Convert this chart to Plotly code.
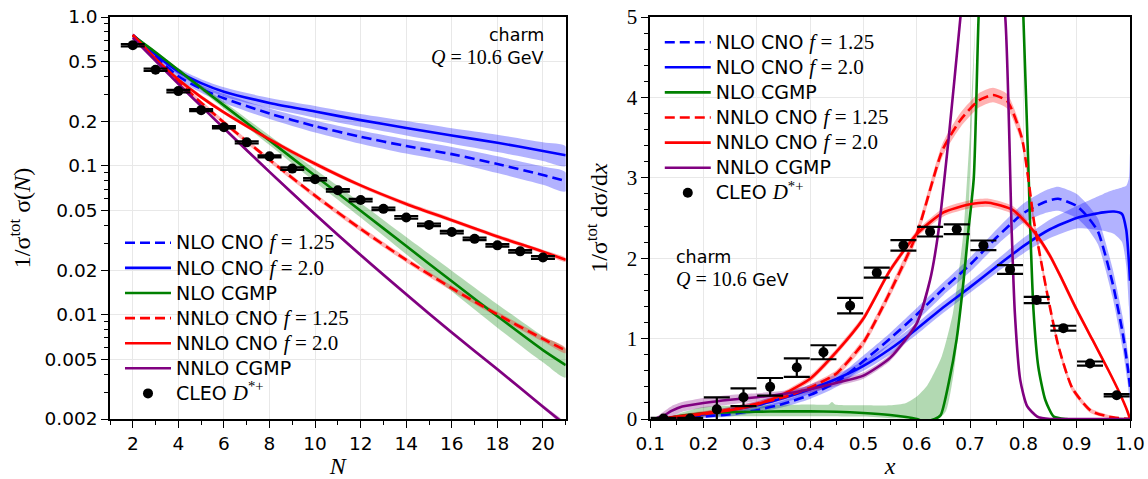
import plotly.graph_objects as go

# ---------------- Left panel: Mellin moments ----------------
N_th = [2, 3, 4, 5, 6, 8, 10, 12, 14, 16, 18, 20, 21]

nlo_cno125 = [0.75, 0.54, 0.40, 0.33, 0.285, 0.225, 0.185, 0.157, 0.136, 0.12, 0.103, 0.087, 0.079]
nlo_cno125_lo = [0.735, 0.518, 0.38, 0.31, 0.265, 0.207, 0.168, 0.141, 0.121, 0.106, 0.0896, 0.0748, 0.0675]
nlo_cno125_hi = [0.765, 0.562, 0.42, 0.35, 0.305, 0.243, 0.202, 0.173, 0.151, 0.134, 0.116, 0.0992, 0.0905]

nlo_cno20 = [0.76, 0.56, 0.43, 0.36, 0.315, 0.265, 0.232, 0.203, 0.18, 0.16, 0.143, 0.126, 0.118]
nlo_cno20_lo = [0.745, 0.538, 0.409, 0.338, 0.293, 0.244, 0.211, 0.183, 0.16, 0.141, 0.124, 0.108, 0.1]
nlo_cno20_hi = [0.775, 0.582, 0.452, 0.382, 0.337, 0.286, 0.253, 0.223, 0.2, 0.179, 0.162, 0.144, 0.135]

nlo_cgmp = [0.75, 0.58, 0.44, 0.335, 0.255, 0.148, 0.086, 0.05, 0.029, 0.0168, 0.0098, 0.0058, 0.0046]
nlo_cgmp_lo = [0.742, 0.568, 0.427, 0.322, 0.242, 0.138, 0.078, 0.045, 0.0255, 0.0144, 0.0082, 0.0048, 0.0038]
nlo_cgmp_hi = [0.758, 0.592, 0.453, 0.348, 0.27, 0.16, 0.095, 0.0565, 0.0334, 0.0198, 0.0118, 0.0072, 0.0059]

nnlo_cno125 = [0.75, 0.519, 0.367, 0.266, 0.196, 0.110, 0.0632, 0.0378, 0.0234, 0.0151, 0.01007, 0.0069, 0.00577]
nnlo_cno125_lo = [0.73, 0.503, 0.355, 0.257, 0.189, 0.106, 0.0608, 0.0363, 0.0225, 0.0145, 0.00966, 0.00662, 0.00553]
nnlo_cno125_hi = [0.77, 0.535, 0.379, 0.275, 0.203, 0.114, 0.0656, 0.0393, 0.0243, 0.0157, 0.01048, 0.00718, 0.006]

nnlo_cno20 = [0.76, 0.525, 0.38, 0.29, 0.229, 0.151, 0.1035, 0.074, 0.0556, 0.0432, 0.0336, 0.0266, 0.0234]
nnlo_cno20_lo = [0.745, 0.51, 0.368, 0.281, 0.222, 0.146, 0.1, 0.0717, 0.0538, 0.0418, 0.0325, 0.0258, 0.0227]
nnlo_cno20_hi = [0.775, 0.54, 0.392, 0.299, 0.236, 0.156, 0.107, 0.0763, 0.0574, 0.0446, 0.0347, 0.0274, 0.0241]

nnlo_cgmp = [0.724, 0.507, 0.356, 0.252, 0.179, 0.0912, 0.0474, 0.0252, 0.01374, 0.00762, 0.00431, 0.00242, 0.00182]
nnlo_cgmp_lo = [0.705, 0.493, 0.346, 0.245, 0.174, 0.0887, 0.0461, 0.0245, 0.01336, 0.00741, 0.00419, 0.00235, 0.00177]
nnlo_cgmp_hi = [0.743, 0.521, 0.366, 0.259, 0.184, 0.0937, 0.0487, 0.0259, 0.01412, 0.00783, 0.00443, 0.00249, 0.00187]

N_data = [2, 3, 4, 5, 6, 7, 8, 9, 10, 11, 12, 13, 14, 15, 16, 17, 18, 19, 20]
cleo_N = [0.647, 0.442, 0.318, 0.237, 0.182, 0.144, 0.116, 0.096, 0.0815, 0.0686, 0.059,
          0.0515, 0.0451, 0.0402, 0.036, 0.0324, 0.0293, 0.0267, 0.0243]
cleo_N_err = [0.012, 0.008, 0.006, 0.004, 0.003, 0.0025, 0.002, 0.0018, 0.0015, 0.0013, 0.0011,
              0.001, 0.0009, 0.0008, 0.0007, 0.0006, 0.0006, 0.0005, 0.0005]

# ---------------- Right panel: x spectrum ----------------
x_bd = [0.12, 0.15, 0.2, 0.25, 0.3, 0.35, 0.4, 0.45, 0.5, 0.55, 0.6, 0.65, 0.7, 0.75, 0.8, 0.84,
        0.865, 0.9, 0.92, 0.94, 0.967, 0.986, 0.996, 1.0]
nlo_cno125_x = [0.0, 0.01, 0.03, 0.06, 0.11, 0.19, 0.3, 0.46, 0.72, 1.0, 1.3, 1.62, 1.92, 2.26, 2.56,
                2.7, 2.74, 2.65, 2.52, 2.33, 1.7, 1.08, 0.63, 0.4]
nlo_cno125_x_lo = [0.0, 0.0, 0.01, 0.03, 0.08, 0.15, 0.25, 0.4, 0.65, 0.93, 1.22, 1.54, 1.83, 2.16,
                   2.44, 2.56, 2.59, 2.5, 2.37, 2.17, 1.52, 0.88, 0.43, 0.2]
nlo_cno125_x_hi = [0.0, 0.02, 0.05, 0.09, 0.14, 0.23, 0.35, 0.52, 0.79, 1.07, 1.38, 1.7, 2.01, 2.36,
                   2.68, 2.84, 2.89, 2.8, 2.67, 2.49, 1.88, 1.28, 0.83, 0.6]

x_bs = [0.12, 0.15, 0.2, 0.25, 0.3, 0.35, 0.4, 0.45, 0.5, 0.55, 0.6, 0.65, 0.7, 0.75, 0.8, 0.85,
        0.9, 0.95, 0.97, 0.985, 0.993, 0.998, 1.0]
nlo_cno20_x = [0.0, 0.02, 0.06, 0.11, 0.17, 0.26, 0.37, 0.5, 0.66, 0.87, 1.12, 1.39, 1.64, 1.9,
               2.15, 2.36, 2.5, 2.57, 2.58, 2.55, 2.35, 1.95, 1.72]
nlo_cno20_x_lo = [0.0, 0.0, 0.03, 0.07, 0.12, 0.2, 0.31, 0.44, 0.6, 0.8, 1.05, 1.32, 1.57, 1.82,
                  2.06, 2.25, 2.37, 2.34, 2.3, 2.2, 1.9, 1.4, 1.2]
nlo_cno20_x_hi = [0.0, 0.05, 0.09, 0.15, 0.22, 0.32, 0.43, 0.56, 0.72, 0.94, 1.19, 1.46, 1.71, 1.98,
                  2.25, 2.48, 2.65, 2.8, 2.85, 2.88, 2.9, 3.0, 3.3]

x_g = [0.13, 0.15, 0.2, 0.25, 0.3, 0.35, 0.4, 0.45, 0.5, 0.55, 0.58, 0.6, 0.615, 0.634, 0.645, 0.66,
       0.675, 0.688, 0.697, 0.707, 0.716, 0.73, 0.76, 0.79, 0.8, 0.81, 0.813, 0.819, 0.828, 0.841,
       0.857, 0.88, 1.0]
nlo_cgmp_x = [0.0, 0.03, 0.07, 0.085, 0.09, 0.095, 0.095, 0.09, 0.075, 0.05, 0.025, 0.0, -0.03, 0.0,
              0.05, 0.45, 1.0, 1.73, 2.35, 3.0, 5.0, 7.0, 8.0, 7.0, 5.0, 3.0, 2.35, 1.35, 0.65, 0.24,
              0.03, 0.0, 0.0]
x_gb_hi = [0.13, 0.15, 0.2, 0.3, 0.4, 0.435, 0.441, 0.447, 0.5, 0.55, 0.58, 0.6, 0.62, 0.647, 0.668,
           0.681, 0.688, 0.7, 0.71]
nlo_cgmp_x_hi = [0.0, 0.06, 0.15, 0.17, 0.18, 0.18, 0.21, 0.18, 0.17, 0.17, 0.2, 0.28, 0.42, 0.78,
                 1.32, 1.94, 2.35, 3.6, 5.0]
x_gb_lo = [0.13, 0.2, 0.3, 0.4, 0.5, 0.55, 0.6, 0.64, 0.655, 0.67, 0.683, 0.695, 0.71]
nlo_cgmp_x_lo = [0.0, 0.03, 0.035, 0.035, 0.03, 0.01, 0.0, 0.0, 0.1, 0.6, 1.4, 2.2, 5.0]

x_rd = [0.12, 0.15, 0.2, 0.25, 0.3, 0.35, 0.4, 0.45, 0.5, 0.55, 0.6, 0.648, 0.682, 0.716, 0.743,
        0.77, 0.797, 0.81, 0.82, 0.845, 0.866, 0.892, 0.927, 0.96, 1.0]
nnlo_cno125_x = [0.0, 0.02, 0.06, 0.12, 0.19, 0.27, 0.39, 0.57, 0.95, 1.58, 2.3, 3.34, 3.72, 3.96,
                 4.03, 3.95, 3.5, 2.95, 2.45, 1.55, 0.9, 0.38, 0.1, 0.03, 0.0]
nnlo_cno125_x_lo = [0.0, 0.0, 0.03, 0.09, 0.16, 0.24, 0.35, 0.53, 0.9, 1.52, 2.23, 3.26, 3.63, 3.87,
                    3.94, 3.86, 3.42, 2.88, 2.38, 1.49, 0.85, 0.34, 0.07, 0.01, 0.0]
nnlo_cno125_x_hi = [0.0, 0.04, 0.09, 0.15, 0.22, 0.3, 0.43, 0.61, 1.0, 1.64, 2.37, 3.42, 3.81, 4.05,
                    4.12, 4.04, 3.58, 3.02, 2.52, 1.61, 0.95, 0.42, 0.13, 0.05, 0.0]

x_rs = [0.12, 0.15, 0.2, 0.25, 0.3, 0.35, 0.4, 0.45, 0.5, 0.55, 0.6, 0.65, 0.7, 0.735, 0.78, 0.82,
        0.85, 0.87, 0.9, 0.93, 0.96, 0.98, 0.995, 1.0]
nnlo_cno20_x = [0.0, 0.03, 0.07, 0.11, 0.18, 0.31, 0.5, 0.84, 1.25, 1.85, 2.3, 2.57, 2.67, 2.69,
                2.6, 2.33, 2.03, 1.77, 1.36, 0.98, 0.6, 0.33, 0.1, 0.0]
nnlo_cno20_x_lo = [0.0, 0.0, 0.04, 0.08, 0.15, 0.28, 0.46, 0.8, 1.21, 1.81, 2.26, 2.52, 2.62, 2.64,
                   2.55, 2.29, 1.99, 1.73, 1.32, 0.95, 0.57, 0.31, 0.08, 0.0]
nnlo_cno20_x_hi = [0.0, 0.05, 0.1, 0.14, 0.21, 0.34, 0.54, 0.88, 1.29, 1.89, 2.34, 2.62, 2.72, 2.74,
                   2.65, 2.37, 2.07, 1.81, 1.4, 1.01, 0.63, 0.35, 0.12, 0.0]

x_p = [0.108, 0.125, 0.14, 0.16, 0.2, 0.25, 0.3, 0.35, 0.4, 0.45, 0.5, 0.55, 0.6, 0.625, 0.64,
       0.66, 0.682, 0.7, 0.72, 0.74, 0.766, 0.778, 0.784, 0.794, 0.807, 0.826, 0.85, 0.9, 1.0]
nnlo_cgmp_x = [0.0, 0.04, 0.1, 0.155, 0.2, 0.24, 0.27, 0.31, 0.37, 0.45, 0.54, 0.76, 1.19, 1.73,
               2.3, 3.5, 5.0, 6.2, 7.0, 6.5, 5.0, 2.35, 1.32, 0.49, 0.16, 0.03, 0.0, 0.0, 0.0]
nnlo_cgmp_x_lo = [0.0, 0.0, 0.03, 0.09, 0.14, 0.18, 0.22, 0.27, 0.33, 0.41, 0.5, 0.72, 1.15, 1.69,
                  2.26, 3.46, 4.96, 6.15, 6.95, 6.45, 4.95, 2.3, 1.28, 0.45, 0.13, 0.01, 0.0, 0.0, 0.0]
nnlo_cgmp_x_hi = [0.0, 0.09, 0.16, 0.21, 0.26, 0.3, 0.32, 0.35, 0.41, 0.49, 0.58, 0.8, 1.23, 1.77,
                  2.34, 3.54, 5.04, 6.25, 7.05, 6.55, 5.05, 2.4, 1.36, 0.53, 0.19, 0.05, 0.0, 0.0, 0.0]

x_data = [0.125, 0.175, 0.225, 0.275, 0.325, 0.375, 0.425, 0.475, 0.525, 0.575, 0.625, 0.675,
          0.725, 0.775, 0.825, 0.875, 0.925, 0.975]
cleo_x = [0.005, 0.005, 0.12, 0.27, 0.40, 0.64, 0.83, 1.41, 1.82, 2.16, 2.33, 2.36, 2.16, 1.86,
          1.48, 1.13, 0.69, 0.295]
cleo_x_err = [0.01, 0.01, 0.15, 0.11, 0.11, 0.115, 0.087, 0.097, 0.062, 0.065, 0.06, 0.06, 0.06,
              0.055, 0.04, 0.03, 0.025, 0.015]

# ---------------- styles ----------------
BLUE, GREEN, RED, PURPLE = "#0000ff", "#008000", "#ff0000", "#800080"
BAND = {BLUE: "rgba(0,0,255,0.3)", GREEN: "rgba(0,128,0,0.3)", RED: "rgba(255,0,0,0.3)",
        PURPLE: "rgba(128,0,128,0.3)"}
SERIF = "Liberation Serif"
DASH = "10px,5px"
LW = 2.6


def m(s, size=21):
    return '<span style="font-family:%s;font-size:%dpx">%s</span>' % (SERIF, size, s)


def t(s, size=19):
    return '<span style="font-size:%dpx">%s</span>' % (size, s)


labels = [
    (t("NLO CNO ") + m("<i>f</i> = 1.25"), BLUE, DASH),
    (t("NLO CNO ") + m("<i>f</i> = 2.0"), BLUE, "solid"),
    (t("NLO CGMP"), GREEN, "solid"),
    (t("NNLO CNO ") + m("<i>f</i> = 1.25"), RED, DASH),
    (t("NNLO CNO ") + m("<i>f</i> = 2.0"), RED, "solid"),
    (t("NNLO CGMP"), PURPLE, "solid"),
]
cleo_label = t("CLEO ") + m("<i>D</i><sup>*+</sup>")

left_curves = [
    (N_th, nlo_cno125, N_th, nlo_cno125_lo, N_th, nlo_cno125_hi),
    (N_th, nlo_cno20, N_th, nlo_cno20_lo, N_th, nlo_cno20_hi),
    (N_th, nlo_cgmp, N_th, nlo_cgmp_lo, N_th, nlo_cgmp_hi),
    (N_th, nnlo_cno125, N_th, nnlo_cno125_lo, N_th, nnlo_cno125_hi),
    (N_th, nnlo_cno20, N_th, nnlo_cno20_lo, N_th, nnlo_cno20_hi),
    (N_th, nnlo_cgmp, N_th, nnlo_cgmp_lo, N_th, nnlo_cgmp_hi),
]
right_curves = [
    (x_bd, nlo_cno125_x, x_bd, nlo_cno125_x_lo, x_bd, nlo_cno125_x_hi),
    (x_bs, nlo_cno20_x, x_bs, nlo_cno20_x_lo, x_bs, nlo_cno20_x_hi),
    (x_g, nlo_cgmp_x, x_gb_lo, nlo_cgmp_x_lo, x_gb_hi, nlo_cgmp_x_hi),
    (x_rd, nnlo_cno125_x, x_rd, nnlo_cno125_x_lo, x_rd, nnlo_cno125_x_hi),
    (x_rs, nnlo_cno20_x, x_rs, nnlo_cno20_x_lo, x_rs, nnlo_cno20_x_hi),
    (x_p, nnlo_cgmp_x, x_p, nnlo_cgmp_x_lo, x_p, nnlo_cgmp_x_hi),
]

fig = go.Figure()

for curves, xa, ya, leg, smooth in [
    (left_curves, "x", "y", "legend", 0.8),
    (right_curves, "x2", "y2", "legend2", 0.6),
]:
    for (lab, col, dash), (xc, yc, xl, yl, xh, yh) in zip(labels, curves):
        fig.add_trace(go.Scatter(
            x=list(xh) + list(xl)[::-1], y=list(yh) + list(yl)[::-1],
            fill="toself", fillcolor=BAND[col], line=dict(width=0, shape="spline", smoothing=smooth),
            mode="lines", hoverinfo="skip", showlegend=False, xaxis=xa, yaxis=ya))
    for (lab, col, dash), (xc, yc, xl, yl, xh, yh) in zip(labels, curves):
        fig.add_trace(go.Scatter(
            x=xc, y=yc, mode="lines", name=lab,
            line=dict(color=col, width=LW, dash=dash, shape="spline", smoothing=smooth),
            xaxis=xa, yaxis=ya, legend=leg))

fig.add_trace(go.Scatter(
    x=N_data, y=cleo_N, mode="markers", name=cleo_label,
    marker=dict(color="black", size=10),
    error_y=dict(type="data", array=cleo_N_err, color="black", thickness=2.2, width=12),
    xaxis="x", yaxis="y", legend="legend"))
fig.add_trace(go.Scatter(
    x=x_data, y=cleo_x, mode="markers", name=cleo_label,
    marker=dict(color="black", size=10),
    error_y=dict(type="data", array=cleo_x_err, color="black", thickness=2.2, width=13),
    xaxis="x2", yaxis="y2", legend="legend2"))

GRID = "#e8e8e8"
common = dict(showline=True, mirror=True, linecolor="black", linewidth=1.5, ticks="outside",
              ticklen=7, tickwidth=1.3, tickcolor="black", showgrid=True, gridcolor=GRID,
              gridwidth=1, zeroline=False)

y_major = [0.002, 0.005, 0.01, 0.02, 0.05, 0.1, 0.2, 0.5, 1.0]
y_major_txt = ["0.002", "0.005", "0.01", "0.02", "0.05", "0.1", "0.2", "0.5", "1.0"]
y_minor = [0.003, 0.004, 0.006, 0.007, 0.008, 0.009, 0.03, 0.04, 0.06, 0.07, 0.08, 0.09,
           0.3, 0.4, 0.6, 0.7, 0.8, 0.9]
N_major = [2, 4, 6, 8, 10, 12, 14, 16, 18, 20]
N_minor = [1, 3, 5, 7, 9, 11, 13, 15, 17, 19, 21]
x_major = [0.1, 0.2, 0.3, 0.4, 0.5, 0.6, 0.7, 0.8, 0.9, 1.0]
x_major_txt = ["0.1", "0.2", "0.3", "0.4", "0.5", "0.6", "0.7", "0.8", "0.9", "1.0"]
x_minor = [0.15, 0.25, 0.35, 0.45, 0.55, 0.65, 0.75, 0.85, 0.95]
y2_major = [0, 1, 2, 3, 4, 5]
y2_minor = [0.2, 0.4, 0.6, 0.8, 1.2, 1.4, 1.6, 1.8, 2.2, 2.4, 2.6, 2.8, 3.2, 3.4, 3.6, 3.8,
            4.2, 4.4, 4.6, 4.8]

minor = dict(ticks="outside", ticklen=4, tickwidth=1.1, tickcolor="black", showgrid=False)
TICKFONT = dict(family="DejaVu Sans", size=18.5, color="black")

legend_common = dict(bgcolor="rgba(255,255,255,0)", borderwidth=0, xanchor="left", yanchor="top",
                     font=dict(family="DejaVu Sans", size=17, color="black"), tracegroupgap=0,
                     itemwidth=46)

fig.update_layout(
    width=1148, height=479,
    margin=dict(l=109.5, r=18, t=17, b=60, autoexpand=False),
    paper_bgcolor="white", plot_bgcolor="white",
    font=dict(family="DejaVu Sans", size=17, color="black"),
    xaxis=dict(domain=[0, 0.4468], range=[1, 21], anchor="y", tickmode="array", tickvals=N_major,
               tickfont=TICKFONT,
               minor=dict(tickmode="array", tickvals=N_minor, **minor),
               title=dict(text="<i>N</i>", font=dict(family=SERIF, size=24), standoff=6), **common),
    yaxis=dict(domain=[0, 1], type="log", range=[-2.69897, 0], anchor="x", tickmode="array",
               tickvals=y_major, ticktext=y_major_txt, tickfont=TICKFONT,
               minor=dict(tickmode="array", tickvals=y_minor, **minor),
               title=dict(text="1/σ<sup>tot</sup> σ(<i>N</i>)", font=dict(family=SERIF, size=24),
                          standoff=7), **common),
    xaxis2=dict(domain=[0.5296, 1], range=[0.1, 1.0], anchor="y2", tickmode="array",
                tickvals=x_major, ticktext=x_major_txt, tickfont=TICKFONT,
                minor=dict(tickmode="array", tickvals=x_minor, **minor),
                title=dict(text="<i>x</i>", font=dict(family=SERIF, size=24), standoff=19), **common),
    yaxis2=dict(domain=[0, 1], range=[0, 5], anchor="x2", tickmode="array", tickvals=y2_major,
                tickfont=dict(family=SERIF, size=21, color="black"),
                minor=dict(tickmode="array", tickvals=y2_minor, **minor),
                title=dict(text="1/σ<sup>tot</sup> dσ/d<i>x</i>", font=dict(family=SERIF, size=24),
                           standoff=12), **common),
    legend=dict(x=0.0098, y=0.482, **legend_common),
    legend2=dict(x=0.539, y=0.981, **legend_common),
    annotations=[
        dict(text="charm", x=0.427, y=0.985, xref="paper", yref="paper", xanchor="right",
             yanchor="top", showarrow=False, font=dict(size=17.5)),
        dict(text=m("<i>Q</i> = 10.6", 20) + " GeV", x=0.427, y=0.933, xref="paper", yref="paper",
             xanchor="right", yanchor="top", showarrow=False, font=dict(size=17.5)),
        dict(text="charm", x=0.553, y=0.434, xref="paper", yref="paper", xanchor="left",
             yanchor="top", showarrow=False, font=dict(size=17.5)),
        dict(text=m("<i>Q</i> = 10.6", 20) + " GeV", x=0.553, y=0.38, xref="paper", yref="paper",
             xanchor="left", yanchor="top", showarrow=False, font=dict(size=17.5)),
    ],
)

fig.write_html("out.html")
